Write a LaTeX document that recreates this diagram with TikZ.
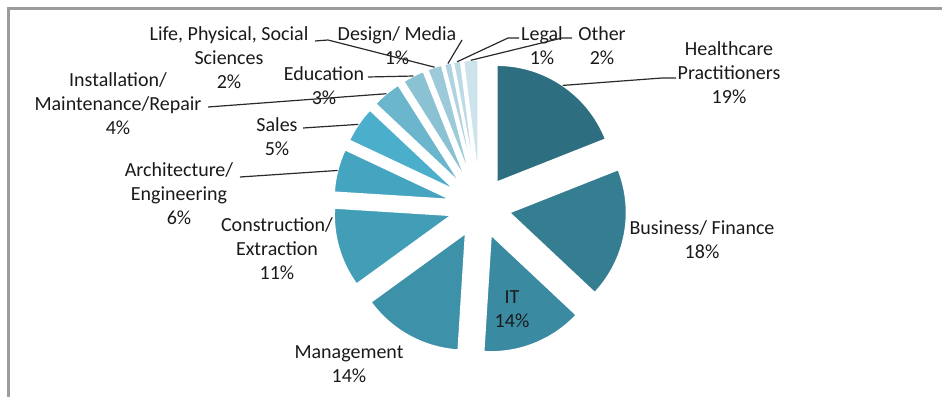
\documentclass[tikz,border=0pt]{standalone}
\usepackage{fontspec}
\setmainfont{Carlito}
\usetikzlibrary{calc}
\definecolor{cHC}{HTML}{2D6E80}
\definecolor{cBF}{HTML}{357D91}
\definecolor{cIT}{HTML}{3A8BA2}
\definecolor{cMG}{HTML}{3D92AA}
\definecolor{cCE}{HTML}{429DB6}
\definecolor{cAE}{HTML}{45A4C0}
\definecolor{cSA}{HTML}{4BAECA}
\definecolor{cIM}{HTML}{6BB6CC}
\definecolor{cED}{HTML}{8AC1D3}
\definecolor{cLP}{HTML}{9DCAD9}
\definecolor{cDM}{HTML}{AFD3E0}
\definecolor{cLG}{HTML}{BCDAE5}
\definecolor{cOT}{HTML}{CCE3EC}
\definecolor{txt}{HTML}{1A1A1A}
\definecolor{ldr}{HTML}{2A2A2A}
\definecolor{frm}{HTML}{9C9C9C}
\newcommand\drawslice[4]{%
  \pgfmathsetmacro\bis{(#1+#2)/2}%
  \coordinate (#4apex) at ($(C)+(\bis:30)$);
  \filldraw[fill=#3, slicestyle] (#4apex) -- ++(#1:117) arc[start angle=#1, end angle=#2, radius=117] -- cycle;
  \coordinate (#4P) at ($(#4apex)+(\bis:117)$);
}
\begin{document}
\begin{tikzpicture}[x=1pt,y=1pt,
  lbl/.style={align=center, font=\fontsize{20}{24}\selectfont, text=txt, inner sep=0pt},
  leader/.style={draw=ldr, line width=1.2pt},
  slicestyle/.style={draw=white, line width=1.5pt, line join=miter}]
\useasboundingbox (0,0) rectangle (942,397);
% frame
\draw[frm, line width=2.4pt] (8.5,0) -- (8.5,388.5) -- (942,388.5);
\coordinate (C) at (480,190);
% slices
\drawslice{90}{21.6}{cHC}{hc}
\drawslice{21.6}{-43.2}{cBF}{bf}
\drawslice{-43.2}{-93.6}{cIT}{it}
\drawslice{-93.6}{-144}{cMG}{mg}
\drawslice{-144}{-183.6}{cCE}{ce}
\drawslice{-183.6}{-205.2}{cAE}{ae}
\drawslice{-205.2}{-223.2}{cSA}{sa}
\drawslice{-223.2}{-237.6}{cIM}{im}
\drawslice{-237.6}{-248.4}{cED}{ed}
\drawslice{-248.4}{-255.6}{cLP}{lp}
\drawslice{-255.6}{-259.2}{cDM}{dm}
\drawslice{-259.2}{-262.8}{cLG}{lg}
\drawslice{-262.8}{-270}{cOT}{ot}
% labels
\node[lbl] (hcL) at (729,324) {Healthcare\\Practitioners\\19\%};
\node[lbl] (bfL) at (702,157) {Business/ Finance\\18\%};
\node[lbl] (itL) at (512,87.5) {IT\\14\%};
\node[lbl] (mgL) at (349,33) {Management\\14\%};
\node[lbl] (ceL) at (277,148) {Construction/\\Extraction\\11\%};
\node[lbl] (aeL) at (179,203) {Architecture/\\Engineering\\6\%};
\node[lbl] (saL) at (277,260) {Sales\\5\%};
\node[lbl] (imL) at (118,293) {Installation/\\Maintenance/Repair\\4\%};
\node[lbl] (edL) at (324,311) {Education\\3\%};
\node[lbl] (lpL) at (229,339) {Life, Physical, Social\\Sciences\\2\%};
\node[lbl] (dmL) at (397,351.5) {Design/ Media\\1\%};
\node[lbl] (lgL) at (542,351.5) {Legal\\1\%};
\node[lbl] (otL) at (602,351.5) {Other\\2\%};
% leader ends
\coordinate (hcA) at (676,319);
\coordinate (hcB) at (662,319);
\coordinate (aeA) at (240,220);
\coordinate (saA) at (303,269);
\coordinate (imA) at (208,290);
\coordinate (edA) at (368,320);
\coordinate (lpA) at (315,356);
\coordinate (lpB) at (328,357);
\coordinate (dmA) at (462,357);
\coordinate (lgA) at (519,359);
\coordinate (lgB) at (508,359);
\coordinate (otA) at (572,359);
\coordinate (otB) at (562,359);
% leaders
\draw[leader] (hcA) -- (hcB) -- (hcP);
\draw[leader] (aeA) -- (aeP);
\draw[leader] (saA) -- (saP);
\draw[leader] (imA) -- (imP);
\draw[leader] (edA) -- (edP);
\draw[leader] (lpA) -- (lpB) -- (lpP);
\draw[leader] (dmA) -- (dmP);
\draw[leader] (lgA) -- (lgB) -- (lgP);
\draw[leader] (otA) -- (otB) -- (otP);
\end{tikzpicture}
\end{document}
